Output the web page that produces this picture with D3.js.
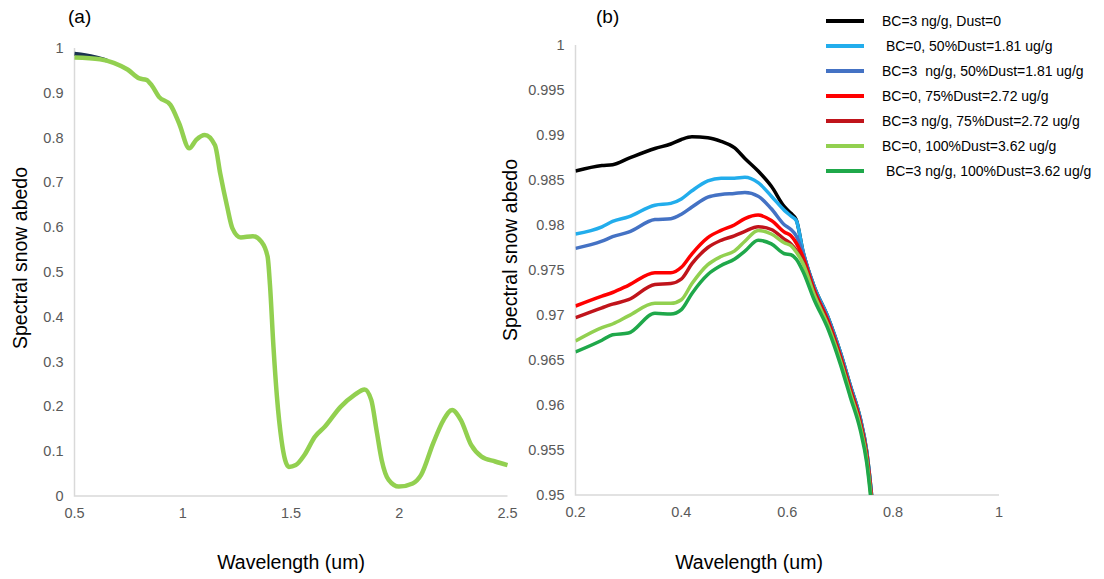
<!DOCTYPE html>
<html>
<head>
<meta charset="utf-8">
<script src="https://cdn.jsdelivr.net/npm/d3@7/dist/d3.min.js"></script>
<style>
body { margin: 0; background: #fff; }
text { font-family: "Liberation Sans", Arial, Helvetica, sans-serif; }
</style>
</head>
<body>
<svg width="1104" height="579"></svg>
<script>
// panel (a): full spectrum
var wavelengthsA = [0.5, 0.618, 0.681, 0.745, 0.8, 0.832, 0.856, 0.89, 0.943, 0.983, 1.03, 1.062, 1.102, 1.149, 1.173,
                    1.205, 1.229, 1.268, 1.324, 1.363, 1.392, 1.403, 1.419, 1.435, 1.456, 1.49, 1.522, 1.562,
                    1.61, 1.657, 1.729, 1.792, 1.84, 1.871, 1.895, 1.919, 1.951, 1.998, 2.062, 2.101, 2.157, 2.205,
                    2.244, 2.284, 2.332, 2.38, 2.443, 2.5];
var albedoA = [0.979, 0.975, 0.967, 0.952, 0.932, 0.929, 0.917, 0.891, 0.873, 0.832, 0.776, 0.795, 0.806, 0.783, 0.72,
               0.646, 0.598, 0.577, 0.58, 0.568, 0.534, 0.47, 0.333, 0.222, 0.125, 0.065, 0.069, 0.0915,
               0.132, 0.155, 0.199, 0.225, 0.238, 0.214, 0.147, 0.08, 0.036, 0.021, 0.028, 0.047, 0.118, 0.17,
               0.192, 0.17, 0.114, 0.088, 0.077, 0.069];
// the clean-snow curve only shows at the very start of panel (a)
var wavelengthsAClean = [0.5, 0.55, 0.6, 0.65];
var albedoAClean = [0.987, 0.984, 0.979, 0.972];

// panel (b): zoom on visible part
var wavelengthsB = [0.2, 0.25, 0.27, 0.3, 0.35, 0.38, 0.4, 0.42, 0.45, 0.475, 0.5, 0.52, 0.545, 0.57, 0.595,
                    0.607, 0.617, 0.63, 0.65, 0.678, 0.7, 0.719, 0.738, 0.75, 0.758, 0.766];
var bc3Dust0 =      [0.9860, 0.9866, 0.9867, 0.9874, 0.9885, 0.9890, 0.9895, 0.9898, 0.9897, 0.9893, 0.9886, 0.9874, 0.9860, 0.9843, 0.9820,
                     0.9813, 0.9806, 0.9770, 0.9733, 0.9696, 0.9659, 0.9622, 0.9585, 0.9549, 0.9508, 0.9455];
var bc0Dust50 =     [0.9790, 0.9798, 0.9804, 0.9809, 0.9822, 0.9824, 0.9829, 0.9838, 0.9849, 0.9852, 0.9852, 0.9853, 0.9847, 0.9832, 0.9816,
                     0.9810, 0.9805, 0.9770, 0.9733, 0.9696, 0.9659, 0.9622, 0.9585, 0.9549, 0.9508, 0.9455];
var bc3Dust50 =     [0.9774, 0.9782, 0.9787, 0.9792, 0.9806, 0.9807, 0.9812, 0.9820, 0.9831, 0.9834, 0.9835, 0.9836, 0.9832, 0.9818, 0.9800,
                     0.9795, 0.9788, 0.9768, 0.9731, 0.9694, 0.9657, 0.9620, 0.9583, 0.9547, 0.9506, 0.9453];
var bc0Dust75 =     [0.9710, 0.9721, 0.9725, 0.9733, 0.9747, 0.9747, 0.9753, 0.9768, 0.9786, 0.9794, 0.9800, 0.9807, 0.9811, 0.9805, 0.9792,
                     0.9788, 0.9780, 0.9764, 0.9729, 0.9692, 0.9655, 0.9618, 0.9581, 0.9545, 0.9504, 0.9451];
var bc3Dust75 =     [0.9697, 0.9708, 0.9712, 0.9717, 0.9734, 0.9735, 0.9740, 0.9757, 0.9775, 0.9783, 0.9788, 0.9793, 0.9798, 0.9795, 0.9784,
                     0.9779, 0.9772, 0.9760, 0.9727, 0.9690, 0.9653, 0.9616, 0.9579, 0.9543, 0.9502, 0.9449];
var bc0Dust100 =    [0.9671, 0.9686, 0.9690, 0.9699, 0.9713, 0.9713, 0.9717, 0.9735, 0.9756, 0.9765, 0.9771, 0.9782, 0.9794, 0.9790, 0.9780,
                     0.9777, 0.9770, 0.9757, 0.9724, 0.9687, 0.9650, 0.9613, 0.9576, 0.9540, 0.9499, 0.9446];
var bc3Dust100 =    [0.9659, 0.9672, 0.9678, 0.9680, 0.9702, 0.9701, 0.9706, 0.9724, 0.9745, 0.9755, 0.9762, 0.9771, 0.9783, 0.9779, 0.9768,
                     0.9767, 0.9762, 0.9748, 0.9718, 0.9683, 0.9646, 0.9609, 0.9572, 0.9536, 0.9495, 0.9442];

var seriesNames = ["BC=3 ng/g, Dust=0", " BC=0, 50%Dust=1.81 ug/g", "BC=3  ng/g, 50%Dust=1.81 ug/g",
                   "BC=0, 75%Dust=2.72 ug/g", "BC=3 ng/g, 75%Dust=2.72 ug/g", "BC=0, 100%Dust=3.62 ug/g",
                   " BC=3 ng/g, 100%Dust=3.62 ug/g"];
var seriesColors = ["#000000", "#22adec", "#4472c4", "#ff0000", "#c0141b", "#92d050", "#1fa84a"];
var seriesB = [bc3Dust0, bc0Dust50, bc3Dust50, bc0Dust75, bc3Dust75, bc0Dust100, bc3Dust100];

var ticksAX = [0.5, 1, 1.5, 2, 2.5];
var ticksAY = [0, 0.1, 0.2, 0.3, 0.4, 0.5, 0.6, 0.7, 0.8, 0.9, 1];
var ticksBX = [0.2, 0.4, 0.6, 0.8, 1];
var ticksBY = [0.95, 0.955, 0.96, 0.965, 0.97, 0.975, 0.98, 0.985, 0.99, 0.995, 1];

svg = d3.select("svg");

xA = d3.scaleLinear().domain([0.5, 2.5]).range([74.5, 507.5]);
yA = d3.scaleLinear().domain([0, 1]).range([496, 48]);
xB = d3.scaleLinear().domain([0.2, 1]).range([575.5, 999]);
yB = d3.scaleLinear().domain([0.95, 1]).range([495, 45]);

svg.append("defs").append("clipPath").attr("id", "clipB")
	.append("rect")
		.attr("x", xB(0.2)).attr("y", yB(1))
		.attr("width", xB(1) - xB(0.2)).attr("height", yB(0.95) - yB(1));

drawAxes(xA, yA, ticksAX, ticksAY, function(d) { return d3.format("")(d) });
drawAxes(xB, yB, ticksBX, ticksBY, function(d) { return d3.format("")(+d.toFixed(3)) });

// panel (a) lines
line = d3.line().curve(d3.curveMonotoneX);
svg.append("path")
	.attr("d", line(wavelengthsAClean.map(function(w, i) { return [xA(w), yA(albedoAClean[i])] })))
	.attr("fill", "none")
	.attr("stroke", "#1b3350")
	.attr("stroke-width", 4);
svg.append("path")
	.attr("d", line(wavelengthsA.map(function(w, i) { return [xA(w), yA(albedoA[i])] })))
	.attr("fill", "none")
	.attr("stroke", "#92d050")
	.attr("stroke-width", 4.5)
	.attr("stroke-linejoin", "round");

// panel (b) lines
gB = svg.append("g").attr("clip-path", "url(#clipB)");
seriesB.forEach(function(vals, k) {
	gB.append("path")
		.attr("d", line(wavelengthsB.map(function(w, i) { return [xB(w), yB(vals[i])] })))
		.attr("fill", "none")
		.attr("stroke", seriesColors[k])
		.attr("stroke-width", 3.5)
		.attr("stroke-linejoin", "round");
});

// titles
svg.append("text").attr("x", 68).attr("y", 23).attr("font-size", 19).text("(a)");
svg.append("text").attr("x", 596).attr("y", 23).attr("font-size", 19).text("(b)");

axisTitle(291, 569, 0, "Wavelength (um)");
axisTitle(749, 569, 0, "Wavelength (um)");
axisTitle(27, 258, -90, "Spectral snow abedo");
axisTitle(517, 250, -90, "Spectral snow abedo");

// legend
legend = svg.append("g").attr("class", "legend");
seriesNames.forEach(function(name, i) {
	row = legend.append("g").attr("transform", "translate(" + [826, 21 + 25 * i] + ")");
	row.append("path")
		.attr("d", d3.line()([[0, 0], [38, 0]]))
		.attr("stroke", seriesColors[i])
		.attr("stroke-width", 4);
	row.append("text")
		.attr("x", 56)
		.attr("dominant-baseline", "central")
		.attr("font-size", 14)
		.attr("fill", "#000")
		.style("white-space", "pre")
		.text(name);
});

function drawAxes(x, y, tx, ty, fmt) {
	g = svg.append("g");
	g.append("path")
		.attr("d", d3.line()([[x.range()[0], y.range()[1]], [x.range()[0], y.range()[0]], [x.range()[1], y.range()[0]]]))
		.attr("fill", "none")
		.attr("stroke", "#d9d9d9")
		.attr("stroke-width", 1.5);
	tx.forEach(function(t) {
		g.append("text")
			.attr("x", x(t)).attr("y", y.range()[0] + 17)
			.attr("text-anchor", "middle")
			.attr("dominant-baseline", "central")
			.attr("font-size", 14.5)
			.attr("fill", "#595959")
			.text(fmt(t));
	});
	ty.forEach(function(t) {
		g.append("text")
			.attr("x", x.range()[0] - 11).attr("y", y(t))
			.attr("text-anchor", "end")
			.attr("dominant-baseline", "central")
			.attr("font-size", 14.5)
			.attr("fill", "#595959")
			.text(fmt(t));
	});
}

function axisTitle(px, py, rot, label) {
	svg.append("text")
		.attr("transform", "translate(" + [px, py] + ") rotate(" + rot + ")")
		.attr("text-anchor", "middle")
		.attr("font-size", 19.5)
		.attr("fill", "#000")
		.text(label);
}
</script>
</body>
</html>
